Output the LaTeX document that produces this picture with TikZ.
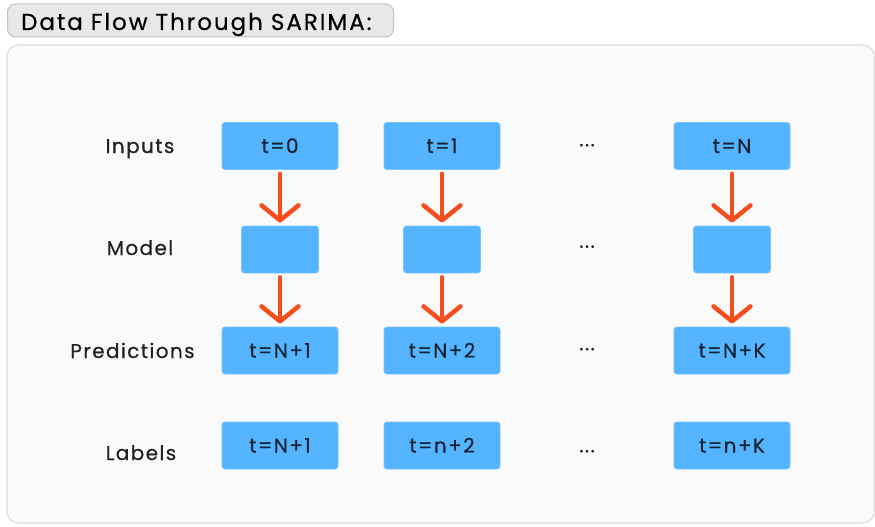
\documentclass[tikz,border=0pt]{standalone}
\usepackage{fontspec}
\setmainfont[LetterSpace=7, FakeBold=0.5]{Poppins}
\usetikzlibrary{arrows.meta}
\definecolor{cellblue}{RGB}{84,180,255}
\definecolor{cellborder}{RGB}{120,196,255}
\definecolor{celltext}{RGB}{22,36,52}
\definecolor{flowred}{RGB}{244,78,30}
\definecolor{panelfill}{RGB}{250,250,250}
\definecolor{panelline}{RGB}{226,226,226}
\definecolor{titlefill}{RGB}{232,232,232}
\definecolor{titleline}{RGB}{196,196,196}
\definecolor{labeltext}{RGB}{34,34,34}
\tikzset{
  cell/.style={draw=cellborder, line width=0.8pt, fill=cellblue, rounded corners=3pt,
    minimum width=116pt, minimum height=47pt, inner sep=0pt,
    text height=14pt, text depth=0pt,
    text=celltext, font=\fontsize{20}{24}\selectfont},
  modelcell/.style={cell, minimum width=77pt},
  rowlabel/.style={text=labeltext, font=\fontsize{20}{24}\selectfont, inner sep=0pt,
    text height=14pt, text depth=0pt},
  gap/.style={text=labeltext, font=\fontsize{20}{24}\selectfont, inner sep=0pt},
  flow/.style={draw=flowred, line width=4.5pt, line cap=round,
    -{Straight Barb[length=15pt, width=37pt, line cap=round, line join=round]},
    shorten <=4pt, shorten >=3pt},
}
\begin{document}
\begin{tikzpicture}[x=1pt, y=-1pt]
\useasboundingbox (0,0) rectangle (875,527);
\fill[white] (0,0) rectangle (875,527);
% outer panel
\draw[panelline, line width=1.5pt, fill=panelfill, rounded corners=11pt]
  (7,45) rectangle (874,523);
% heading
\node[draw=titleline, line width=1pt, fill=titlefill, rounded corners=8pt,
  minimum width=386pt, minimum height=33pt, inner sep=0pt] (title) at (200.5,20.5) {};
\node[font=\fontsize{23}{27}\selectfont\addfontfeatures{LetterSpace=8.5}, text=black,
  anchor=west, inner sep=0pt, text height=16pt, text depth=0pt]
  (titletext) at (21,22) {Data Flow Through SARIMA:};
% row labels
\node[rowlabel] (lin) at (140,146) {Inputs};
\node[rowlabel] (lmo) at (140,248) {Model};
\node[rowlabel] (lpr) at (132.5,351) {Predictions};
\node[rowlabel] (lla) at (141,453) {Labels};
% inputs
\node[cell] (in1) at (280,146) {t=0};
\node[cell] (in2) at (442,146) {t=1};
\node[cell] (in3) at (732,146) {t=N};
% model
\node[modelcell] (mo1) at (280,249.5) {};
\node[modelcell] (mo2) at (442,249.5) {};
\node[modelcell] (mo3) at (732,249.5) {};
% predictions
\node[cell] (pr1) at (280,350.5) {t=N+1};
\node[cell] (pr2) at (442,350.5) {t=N+2};
\node[cell] (pr3) at (732,350.5) {t=N+K};
% labels
\node[cell] (la1) at (280,445.5) {t=N+1};
\node[cell] (la2) at (442,445.5) {t=n+2};
\node[cell] (la3) at (732,445.5) {t=n+K};
% ellipses between columns
\node[gap] (d1) at (587,148) {···};
\node[gap] (d2) at (587,249.5) {···};
\node[gap] (d3) at (587,352) {···};
\node[gap] (d4) at (587,454) {···};
% flow arrows
\foreach \c in {1,2,3} {
  \draw[flow] (in\c.south) -- (mo\c.north);
  \draw[flow] (mo\c.south) -- (pr\c.north);
}
\end{tikzpicture}
\end{document}
